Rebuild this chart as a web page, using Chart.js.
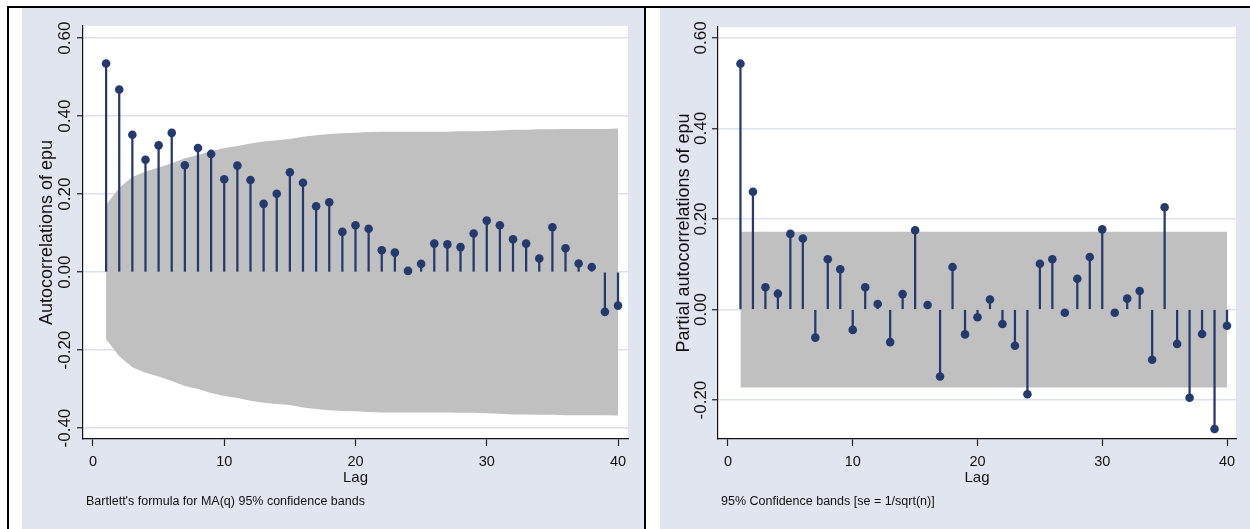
<!DOCTYPE html>
<html>
<head>
<meta charset="utf-8">
<script src="https://cdn.jsdelivr.net/npm/chart.js@4.4.1/dist/chart.umd.min.js"></script>
<style>
  body { margin: 0; background: #ffffff; width: 1250px; height: 529px; position: relative; overflow: hidden; }
  .ln { position: absolute; background: #000; }
  canvas { position: absolute; }
</style>
</head>
<body>
<div class="ln" style="left:7px;top:6px;width:1243px;height:2px"></div>
<div class="ln" style="left:7px;top:6px;width:2px;height:523px"></div>
<div class="ln" style="left:644px;top:6px;width:2px;height:523px"></div>
<canvas id="acf" width="622" height="521" style="left:22px;top:8px"></canvas>
<canvas id="pacf" width="590" height="521" style="left:660px;top:8px"></canvas>
<script>
// lags 1..40
const lags = [1,2,3,4,5,6,7,8,9,10,11,12,13,14,15,16,17,18,19,20,
              21,22,23,24,25,26,27,28,29,30,31,32,33,34,35,36,37,38,39,40];

// autocorrelations (left panel)
const acf = [0.535,0.468,0.352,0.288,0.325,0.357,0.274,0.318,0.303,0.238,
             0.273,0.236,0.175,0.201,0.256,0.229,0.169,0.179,0.103,0.120,
             0.111,0.056,0.050,0.003,0.021,0.073,0.071,0.064,0.099,0.132,
             0.120,0.084,0.073,0.035,0.115,0.061,0.022,0.013,-0.102,-0.086];

// Bartlett band half-width, read from the grey area
const acfBand = [0.172,0.216,0.244,0.258,0.268,0.279,0.292,0.300,0.310,0.318,
                 0.323,0.330,0.335,0.338,0.341,0.347,0.351,0.354,0.356,0.357,
                 0.359,0.360,0.360,0.360,0.360,0.360,0.360,0.361,0.361,0.362,
                 0.363,0.365,0.365,0.366,0.366,0.367,0.367,0.367,0.367,0.368];

// partial autocorrelations (right panel)
const pacf = [0.543,0.260,0.049,0.035,0.167,0.157,-0.062,0.111,0.089,-0.045,
              0.049,0.012,-0.072,0.034,0.175,0.010,-0.148,0.094,-0.055,-0.017,
              0.022,-0.032,-0.080,-0.187,0.101,0.111,-0.007,0.068,0.116,0.177,
              -0.007,0.024,0.041,-0.111,0.226,-0.076,-0.195,-0.054,-0.264,-0.036];

// constant band, se = 1/sqrt(n)
const pacfBandLags = [1, 40];
const pacfBand = [0.172, 0.172];

const xTicks = [0, 10, 20, 30, 40];
const yTicksAcf = [-0.4, -0.2, 0, 0.2, 0.4, 0.6];
const yTicksPacf = [-0.2, 0, 0.2, 0.4, 0.6];

const NAVY = '#243a6e';
const BG = 'rgb(225,229,239)';
const FONT = '"Liberation Sans", Arial, sans-serif';

const stataText = {
  id: 'stataText',
  beforeDraw(chart, args, o) {
    const ctx = chart.ctx, a = chart.chartArea;
    ctx.save();
    ctx.fillStyle = BG;
    ctx.fillRect(0, 0, chart.width, chart.height);
    ctx.fillStyle = '#fff';
    ctx.fillRect(a.left, a.top, a.right - a.left, a.bottom - a.top);
    ctx.restore();
  },
  afterDraw(chart, args, o) {
    const ctx = chart.ctx, a = chart.chartArea;
    const xs = chart.scales.x, ys = chart.scales.y;
    ctx.save();
    ctx.fillStyle = '#111';
    ctx.textBaseline = 'middle';
    // y tick labels, rotated
    ctx.font = '17px ' + FONT;
    ctx.textAlign = 'center';
    o.yTicks.forEach(v => {
      ctx.save();
      ctx.translate(o.yLabelX, ys.getPixelForValue(v));
      ctx.rotate(-Math.PI / 2);
      ctx.fillText(v.toFixed(2), 0, 0);
      ctx.restore();
    });
    // y title
    ctx.font = '18px ' + FONT;
    ctx.save();
    ctx.translate(o.yTitleX, (a.top + a.bottom) / 2);
    ctx.rotate(-Math.PI / 2);
    ctx.fillText(o.yTitle, 0, 0);
    ctx.restore();
    // x tick labels
    ctx.font = '14.5px ' + FONT;
    xTicks.forEach(v => ctx.fillText(String(v), xs.getPixelForValue(v), 454));
    // x title
    ctx.font = '15px ' + FONT;
    ctx.fillText('Lag', (a.left + a.right) / 2, 470);
    // note
    ctx.font = '12.5px ' + FONT;
    ctx.textAlign = 'left';
    ctx.fillText(o.note, o.noteX, 494);
    ctx.restore();
  }
};

function makeChart(id, vals, bandLags, band, yTicks, lim, pad, txt) {
  const upper = bandLags.map((l, i) => ({ x: l, y: band[i] }));
  const lower = bandLags.map((l, i) => ({ x: l, y: -band[i] }));
  const pts = lags.map((l, i) => ({ x: l, y: vals[i] }));
  return new Chart(document.getElementById(id), {
    type: 'scatter',
    data: {
      datasets: [
        { type: 'scatter', data: pts, pointRadius: 4.3, pointHoverRadius: 4.3,
          backgroundColor: NAVY, borderWidth: 0 },
        { type: 'bar', data: pts, barThickness: 1.6, backgroundColor: NAVY,
          borderWidth: 0 },
        { type: 'line', data: upper, pointRadius: 0, borderWidth: 0,
          fill: '+1', backgroundColor: 'rgb(192,192,192)' },
        { type: 'line', data: lower, pointRadius: 0, borderWidth: 0,
          fill: false }
      ]
    },
    options: {
      responsive: false,
      animation: false,
      devicePixelRatio: 1,
      layout: { padding: pad },
      plugins: {
        legend: { display: false },
        tooltip: { enabled: false },
        stataText: txt
      },
      scales: {
        x: {
          type: 'linear', min: lim.x0, max: lim.x1, offset: false,
          afterBuildTicks: s => { s.ticks = xTicks.map(v => ({ value: v })); },
          afterFit: s => { s.height = 7; },
          ticks: { display: false },
          grid: { offset: false, drawOnChartArea: false, drawTicks: true, tickLength: 7,
                  tickColor: '#222', tickWidth: 1.2 },
          border: { display: true, color: '#111', width: 1.2 }
        },
        y: {
          type: 'linear', min: lim.y0, max: lim.y1,
          afterBuildTicks: s => { s.ticks = yTicks.map(v => ({ value: v })); },
          afterFit: s => { s.width = 6; },
          ticks: { display: false },
          grid: { color: 'rgb(219,225,237)', lineWidth: 1.5, drawTicks: true,
                  tickLength: 6, tickColor: '#222', tickWidth: 1.2 },
          border: { display: true, color: '#111', width: 1.2 }
        }
      }
    },
    plugins: [stataText]
  });
}

makeChart('acf', acf, lags, acfBand, yTicksAcf,
  { x0: -0.76, x1: 40.76, y0: -0.428, y1: 0.631 },
  { left: 55, right: 16, top: 18, bottom: 83 },
  { yTicks: yTicksAcf, yLabelX: 43.5, yTitleX: 25,
    yTitle: 'Autocorrelations of epu', noteX: 64,
    note: "Bartlett's formula for MA(q) 95% confidence bands" });

makeChart('pacf', pacf, pacfBandLags, pacfBand, yTicksPacf,
  { x0: -0.8, x1: 40.72, y0: -0.286, y1: 0.624 },
  { left: 52, right: 14, top: 19, bottom: 83 },
  { yTicks: yTicksPacf, yLabelX: 41, yTitleX: 24,
    yTitle: 'Partial autocorrelations of epu', noteX: 61,
    note: '95% Confidence bands [se = 1/sqrt(n)]' });
</script>
</body>
</html>
